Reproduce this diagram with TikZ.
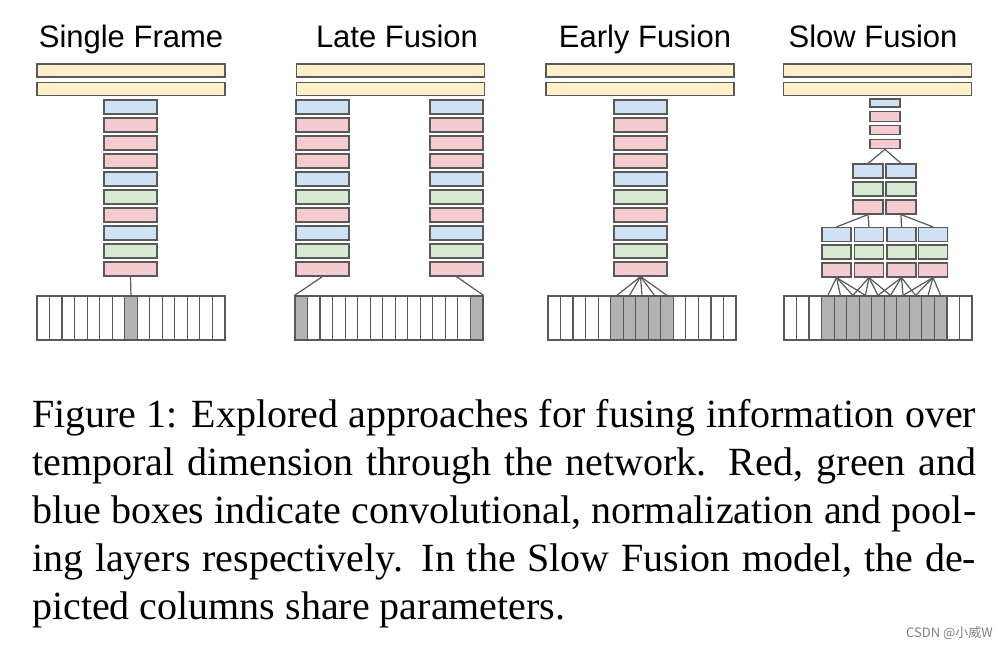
\documentclass[tikz,border=0pt]{standalone}
\usepackage{fontspec}
\setmainfont{Liberation Serif}
\setsansfont{Liberation Sans}
\newfontfamily\cjkfont{Noto Sans CJK SC}

\definecolor{fcyellow}{HTML}{FDF1CB}
\definecolor{poolblue}{HTML}{CFE2F3}
\definecolor{convred}{HTML}{F4CCD0}
\definecolor{normgreen}{HTML}{D9EAD3}
\definecolor{framegray}{HTML}{B3B3B3}
\definecolor{edgegray}{HTML}{595959}

\tikzset{
  layer/.style={draw=edgegray, line width=1.2pt, inner sep=0pt,
                minimum width=53pt, minimum height=14pt},
  fcbar/.style={layer, fill=fcyellow, minimum width=188pt, minimum height=13pt},
  cell/.style={draw=edgegray, line width=1.2pt, inner sep=0pt,
               minimum width=12.53pt, minimum height=44pt},
  wire/.style={draw=edgegray, line width=1.2pt},
  title/.style={font=\sffamily\fontsize{31}{36}\selectfont, anchor=base},
  caption/.style={font=\fontsize{40}{48}\selectfont, anchor=base west, inner sep=0pt}
}

% two fully connected bars on top of a model
\newcommand{\fcpair}[2]{% #1 prefix, #2 centre x
  \node[fcbar] (#1fa) at (#2,70.5) {};
  \node[fcbar] (#1fb) at (#2,89) {};
}

% column of ten layers
\newcommand{\layerstack}[2]{% #1 prefix, #2 centre x
  \foreach \c [count=\i] in {poolblue,convred,convred,convred,poolblue,
                             normgreen,convred,poolblue,normgreen,convred}
    \node[layer, fill=\c] (#1\i) at (#2,{107+18*(\i-1)}) {};
}

% strip of 15 frames, #3 = the gray ones
\newcommand{\framestrip}[3]{% #1 prefix, #2 left x, #3 gray cells
  \foreach \i in {1,...,15}{%
    \gdef\cellfill{white}%
    \foreach \g in {#3}{\ifnum\g=\i\relax\gdef\cellfill{framegray}\fi}%
    \node[cell, fill=\cellfill] (#1\i) at ({#2+12.53*(\i-0.5)},318) {};
  }
}

\begin{document}
\begin{tikzpicture}[x=1pt, y=-1pt]
  \useasboundingbox (0,0) rectangle (1006,648);

  % Titles
  \node[title] (tsingle) at (131,47) {Single Frame};
  \node[title] (tlate)   at (397,47) {Late Fusion};
  \node[title] (tearly)  at (645,47) {Early Fusion};
  \node[title] (tslow)   at (873,47) {Slow Fusion};

  % Single Frame
  \fcpair{s}{131}
  \layerstack{sl}{130.5}
  \framestrip{sf}{37}{8}
  \draw[wire] (sl10.south) -- (sf8.north);

  % Late Fusion
  \fcpair{l}{390.5}
  \layerstack{ll}{322.5}
  \layerstack{lr}{456.5}
  \framestrip{lf}{295}{1,15}
  \draw[wire] (ll10.south) -- (lf1.north west);
  \draw[wire] (lr10.south) -- (lf15.north east);

  % Early Fusion
  \fcpair{e}{640}
  \layerstack{el}{640.5}
  \framestrip{ef}{548}{6,...,10}
  \foreach \g in {6,...,10}
    \draw[wire] (el10.south) -- (ef\g.north);

  % Slow Fusion
  \fcpair{w}{877.5}
  % top column (small boxes)
  \foreach \c/\y/\h [count=\i] in {poolblue/103/8, convred/116.5/9.5,
                                   convred/130/9.5, convred/144/9.5}
    \node[layer, fill=\c, minimum width=30pt, minimum height=\h pt] (wt\i) at (885,\y) {};
  % middle columns
  \foreach \x [count=\j] in {868,901}
    \foreach \c/\y [count=\i] in {poolblue/171, normgreen/189, convred/207}
      \node[layer, fill=\c, minimum width=30pt] (wm\j\i) at (\x,\y) {};
  % bottom columns
  \foreach \x [count=\j] in {836.5,869,901.5,933}
    \foreach \c/\y [count=\i] in {poolblue/234.5, normgreen/252, convred/270}
      \node[layer, fill=\c, minimum width=29pt] (wb\j\i) at (\x,\y) {};
  \framestrip{wf}{784}{4,...,13}

  \draw[wire] (wt4.south) -- (wm11.north);
  \draw[wire] (wt4.south) -- (wm21.north);
  \draw[wire] (wm13.south) -- (wb11.north);
  \draw[wire] (wm13.south) -- (wb21.north);
  \draw[wire] (wm23.south) -- (wb31.north);
  \draw[wire] (wm23.south) -- (wb41.north);
  \foreach \j in {1,...,4}
    \foreach \k in {0,...,3}{
      \pgfmathtruncatemacro\g{2*\j+2+\k}
      \draw[wire] (wb\j3.south) -- (wf\g.north);
    }

  % Caption
  \node[caption] (cap1) at (32,427)
    {\makebox[944pt][s]{Figure 1: Explored approaches for fusing information over}};
  \node[caption] (cap2) at (32,475)
    {\makebox[944pt][s]{temporal dimension through the network. Red, green and}};
  \node[caption] (cap3) at (32,523)
    {\makebox[944pt][s]{blue boxes indicate convolutional, normalization and pool-}};
  \node[caption] (cap4) at (32,571)
    {\makebox[944pt][s]{ing layers respectively. In the Slow Fusion model, the de-}};
  \node[caption] (cap5) at (32,619) {picted columns share parameters.};

  % watermark
  \node[font=\cjkfont\fontsize{13}{15}\selectfont, text=gray, anchor=base west,
        inner sep=0pt] (mark) at (906,637) {CSDN @小威W};
\end{tikzpicture}
\end{document}
